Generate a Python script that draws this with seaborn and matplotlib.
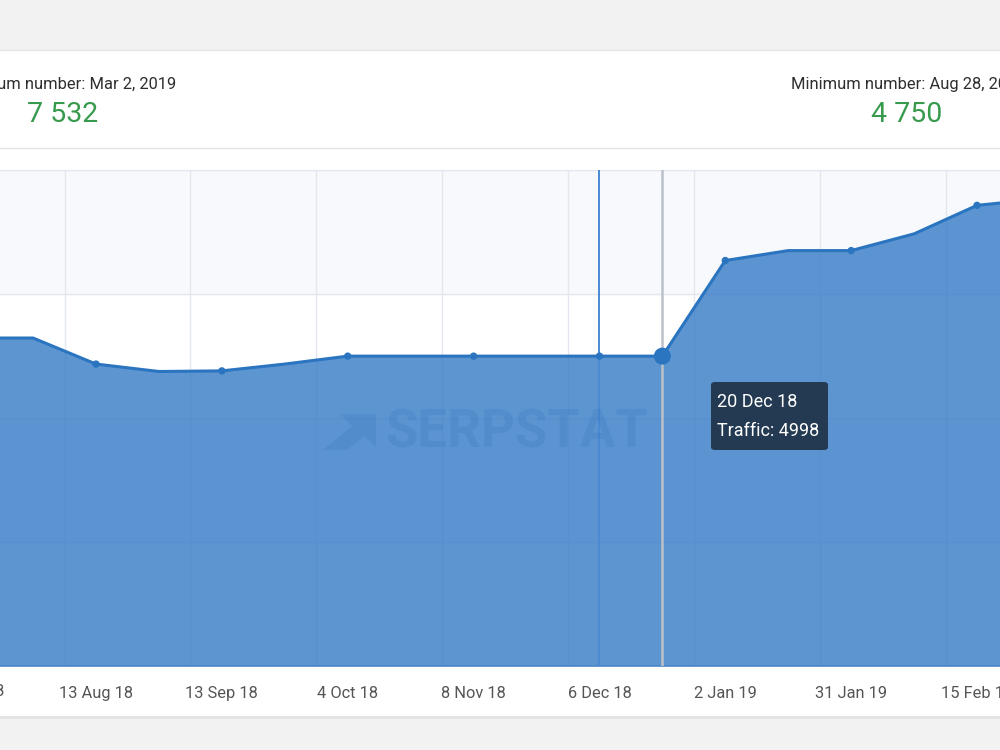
import numpy as np
import pandas as pd
import matplotlib
matplotlib.use("Agg")
import matplotlib.pyplot as plt
import matplotlib.transforms as mtransforms
import seaborn as sns
from matplotlib.patches import Rectangle, FancyBboxPatch, Polygon

# =========================
# Datos
# =========================
dates = ["13 Jul 18", "30 Jul 18", "13 Aug 18", "28 Aug 18", "13 Sep 18", "20 Sep 18",
         "4 Oct 18", "18 Oct 18", "8 Nov 18", "22 Nov 18", "6 Dec 18", "20 Dec 18",
         "2 Jan 19", "16 Jan 19", "31 Jan 19", "8 Feb 19", "15 Feb 19", "2 Mar 19"]
traffic = [5290, 5290, 4870, 4750, 4760, 4870,
           4998, 4998, 4998, 4998, 4998, 4998,
           6540, 6700, 6700, 6970, 7430, 7532]
tick_labels = dates[::2]
max_label = "Maximum number: Mar 2, 2019"
max_value = "7 532"
min_label = "Minimum number: Aug 28, 2019"
min_value = "4 750"
hover_idx = 11
plotline_idx = 10

df = pd.DataFrame({"fecha": dates, "traffic": traffic})
df["pos"] = np.arange(len(df))

sns.set_style("white")
plt.rcParams["font.family"] = ["Roboto", "DejaVu Sans"]

W, H = 1000, 750
fig = plt.figure(figsize=(10, 7.5), dpi=100)
fig.patch.set_facecolor("#f2f2f2")

def fx(x):
    return x / W

def fy(y):
    return 1 - y / H

# tarjeta blanca + sombra
fig.add_artist(Rectangle((0, fy(719)), 1, (719 - 716) / H, transform=fig.transFigure,
                         facecolor="#e4e4e4", edgecolor="none", zorder=-2))
fig.add_artist(Rectangle((0, fy(716)), 1, (716 - 50) / H, transform=fig.transFigure,
                         facecolor="white", edgecolor="none", zorder=-1))
fig.add_artist(plt.Line2D([0, 1], [fy(50), fy(50)], transform=fig.transFigure,
                          color="#e6e6e6", lw=1, zorder=-0.5))
fig.add_artist(plt.Line2D([0, 1], [fy(148), fy(148)], transform=fig.transFigure,
                          color="#e2e3ea", lw=1, zorder=-0.5))

# cabecera
fig.text(fx(176), fy(84), max_label, ha="right", va="center", fontsize=11.9, color="#2e2e2e")
fig.text(fx(63), fy(114), max_value, ha="center", va="center", fontsize=20.5, color="#389a4d")
fig.text(fx(791), fy(84), min_label, ha="left", va="center", fontsize=11.9, color="#2e2e2e")
fig.text(fx(907), fy(114), min_value, ha="center", va="center", fontsize=20.5, color="#389a4d")

# =========================
# Área del gráfico
# =========================
ax = fig.add_axes([0, fy(666), 1, (666 - 170) / H])
ax.set_facecolor("white")

# bandas alternas
ax.axhspan(6000, 8000, color="#f7f9fc", zorder=0)
ax.axhspan(2000, 4000, color="#f7f9fc", zorder=0)

ax.fill_between(df["pos"], df["traffic"], color="#2f78c4", alpha=0.78, lw=0, zorder=2)
sns.lineplot(data=df, x="pos", y="traffic", ax=ax, color="#2a74c0", lw=2.2, zorder=4)
marcas = df.iloc[::2]
sns.scatterplot(data=marcas, x="pos", y="traffic", ax=ax, color="#2a74c0", s=28,
                edgecolor="none", zorder=5)

# líneas verticales
ax.axvline(plotline_idx, color="#4a8ad4", lw=1.4, zorder=3)
ax.axvline(hover_idx, color="#bcc1c9", lw=1.8, zorder=3)
ax.scatter([hover_idx], [traffic[hover_idx]], s=150, color="#2a74c0", edgecolor="none", zorder=6)

ax.set_yticks([0, 2000, 4000, 6000, 8000])
ax.set_yticklabels([])
ax.set_xticks(df["pos"][::2])
ax.set_xticklabels(tick_labels)
ax.set_xticks(np.arange(-0.5, len(df), 2), minor=True)

# escala (ventana recortada como en la captura) -- después de set_xticks
x0 = (0 + 29.86) / 62.93
x1 = (1000 + 29.86) / 62.93
ax.set_xlim(x0, x1)
ax.set_ylim(0, 8000)

ax.grid(which="major", axis="y", color="#e4e7ef", lw=1, zorder=1)
ax.grid(which="minor", axis="x", color="#e4e7ef", lw=1, zorder=1)
ax.grid(which="major", axis="x", visible=False)
ax.set_axisbelow(True)
ax.tick_params(axis="both", which="both", length=0)
ax.tick_params(axis="x", pad=14.5, labelsize=11.8, labelcolor="#555555")

# etiqueta del primer punto, fuera de la ventana (sólo se ve el final)
trans = mtransforms.blended_transform_factory(ax.transData, fig.transFigure)
ax.text(0, fy(692), tick_labels[0], transform=trans, ha="center", va="center",
        fontsize=11.8, color="#555555", clip_on=False)

for s in ["left", "right"]:
    ax.spines[s].set_visible(False)
ax.spines["top"].set_color("#e4e7ef")
ax.spines["bottom"].set_color("#4a86c6")
ax.spines["bottom"].set_linewidth(1.2)

ax.set_xlabel("")
ax.set_ylabel("")

# marca de agua
wm = "#1f5fa8"
fig.text(fx(385), fy(433), "SERPSTAT", ha="left", va="center", fontsize=38,
         fontweight="bold", color=wm, alpha=0.14, zorder=1)
logo = [(340, 414), (376, 414), (376, 447), (364, 436), (347, 450), (323, 450),
        (352, 426)]
fig.add_artist(Polygon([(fx(a), fy(b)) for a, b in logo], closed=True, transform=fig.transFigure,
                       facecolor=wm, alpha=0.14, edgecolor="none", zorder=1))

# tooltip
fig.add_artist(FancyBboxPatch((fx(711), fy(450)), fx(828 - 711), (450 - 382) / H,
                              boxstyle="round,pad=0,rounding_size=0.004",
                              transform=fig.transFigure, facecolor="#243a52",
                              edgecolor="none", zorder=2))
fig.text(fx(717), fy(402), dates[hover_idx], ha="left", va="center", fontsize=13, color="white", zorder=3)
fig.text(fx(717), fy(431), "Traffic: %d" % traffic[hover_idx], ha="left", va="center",
         fontsize=13, color="white", zorder=3)

fig.savefig("out.png", dpi=100)
